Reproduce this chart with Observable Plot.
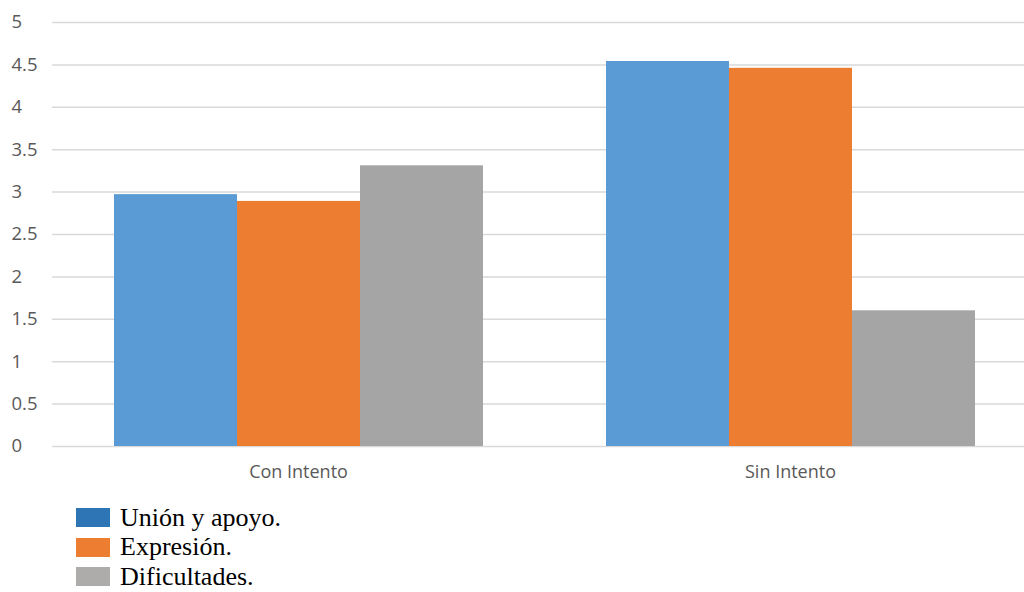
<!DOCTYPE html>
<html>
<head>
<meta charset="utf-8">
<script src="https://cdn.jsdelivr.net/npm/d3@7"></script>
<script src="https://cdn.jsdelivr.net/npm/@observablehq/plot@0.6"></script>
<style>
  html, body { margin: 0; padding: 0; background: #fff; overflow: hidden; }
  #chart { width: 1024px; overflow: hidden; }
  #chart svg { display: block; }
  .legend { margin: 11px 0 0 76px; font-family: "Liberation Serif", "Times New Roman", serif; font-size: 26px; line-height: 1; color: #000; }
  .legend .item { display: flex; align-items: center; height: 29.5px; }
  .legend .swatch { width: 34px; height: 19px; margin-right: 10px; flex: none; }
</style>
</head>
<body>
<div id="chart"></div>
<div class="legend" id="legend"></div>
<script>
// Groups along the horizontal axis
const groups = ["Con Intento", "Sin Intento"];
// Series names, in the order they appear within each group
const series = ["Unión y apoyo.", "Expresión.", "Dificultades."];
// Values per series, one per group
const unionApoyo = [2.97, 4.54];
const expresion = [2.89, 4.46];
const dificultades = [3.31, 1.60];
// Y axis ticks
const yTicks = [0, 0.5, 1, 1.5, 2, 2.5, 3, 3.5, 4, 4.5, 5];
// Bar fills and legend swatch fills
const barColors = ["#5B9BD5", "#ED7D31", "#A5A5A5"];
const swatchColors = ["#2E75B6", "#ED7D31", "#AEABAB"];

const seriesValues = [unionApoyo, expresion, dificultades];
const data = [];
groups.forEach((g, gi) => {
  series.forEach((s, si) => {
    data.push({group: g, series: s, value: seriesValues[si][gi]});
  });
});

// The plot area runs slightly past the right edge of the page
const chart = Plot.plot({
  width: 1024,
  height: 492,
  marginLeft: 51,
  marginRight: -12,
  marginTop: 22,
  marginBottom: 46,
  style: {fontFamily: "'Open Sans', sans-serif", background: "#fff", overflow: "hidden"},
  fx: {domain: groups, padding: 0, label: null},
  x: {domain: series, axis: null, paddingInner: 0, paddingOuter: 0.5},
  y: {domain: [0, 5], label: null},
  color: {domain: series, range: barColors},
  marks: [
    Plot.gridY(yTicks, {stroke: "#d9d9d9", strokeOpacity: 1, strokeWidth: 1.5}),
    Plot.axisY({
      ticks: yTicks,
      tickSize: 0,
      tickPadding: 0,
      textAnchor: "start",
      dx: -41,
      fontSize: 18.5,
      fill: "#595959",
      tickFormat: d => String(d),
      label: null
    }),
    Plot.axisFx({
      anchor: "bottom",
      tickSize: 0,
      tickPadding: 19,
      fontSize: 18,
      fill: "#595959",
      label: null
    }),
    Plot.barY(data, {fx: "group", x: "series", y: "value", fill: "series"})
  ]
});
document.getElementById("chart").appendChild(chart);

// Legend below the chart
const legend = document.getElementById("legend");
series.forEach((s, i) => {
  const item = document.createElement("div");
  item.className = "item";
  const sw = document.createElement("span");
  sw.className = "swatch";
  sw.style.background = swatchColors[i];
  const label = document.createElement("span");
  label.textContent = s;
  item.appendChild(sw);
  item.appendChild(label);
  legend.appendChild(item);
});
</script>
</body>
</html>
